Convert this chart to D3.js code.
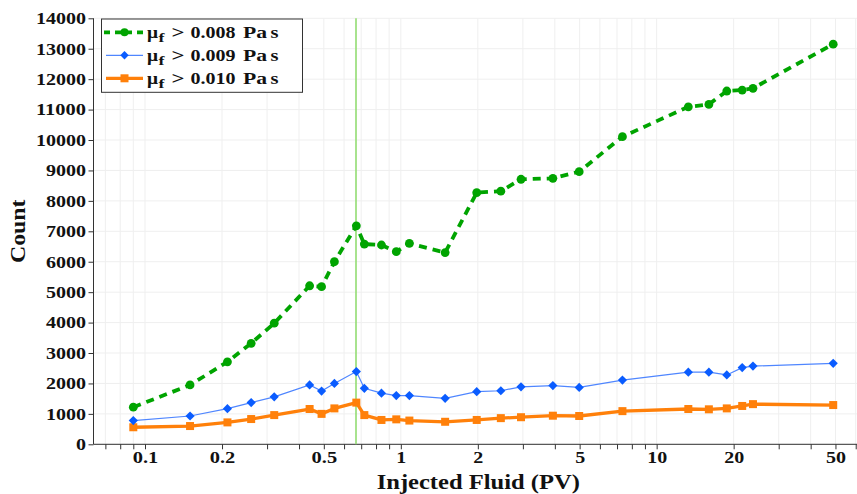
<!DOCTYPE html>
<html>
<head>
<meta charset="utf-8">
<script src="https://cdn.jsdelivr.net/npm/d3@7"></script>
<style>
  html, body { margin: 0; padding: 0; background: #fff; }
  svg { display: block; }
  text { font-family: "Liberation Serif", "Times New Roman", serif; font-weight: bold; fill: #111; }
</style>
</head>
<body>
<svg id="chart" width="857" height="494"></svg>
<script>
// ---- data ----
const injectedPV = [0.09, 0.15, 0.21, 0.26, 0.32, 0.44, 0.49, 0.55, 0.67, 0.72, 0.84, 0.96, 1.08, 1.49, 1.98, 2.46, 2.95, 3.93, 4.98, 7.35, 13.3, 16.0, 18.8, 21.6, 23.8, 49.0];
const count008 = [1220, 1950, 2710, 3320, 3980, 5210, 5180, 6000, 7180, 6580, 6550, 6330, 6600, 6300, 8270, 8320, 8710, 8740, 8960, 10110, 11090, 11170, 11610, 11640, 11700, 13150];
const count009 = [780, 930, 1170, 1370, 1560, 1950, 1750, 2000, 2390, 1840, 1680, 1600, 1600, 1510, 1730, 1760, 1890, 1930, 1870, 2110, 2370, 2370, 2280, 2520, 2570, 2660];
const count010 = [560, 600, 720, 830, 960, 1160, 1000, 1180, 1370, 960, 800, 820, 780, 740, 800, 860, 890, 940, 930, 1090, 1160, 1150, 1180, 1260, 1320, 1290];
const seriesLabels = ["0.008", "0.009", "0.010"];
const xTickLabels = [0.1, 0.2, 0.5, 1, 2, 5, 10, 20, 50];
const xMinorTicks = [0.07, 0.08, 0.09, 0.1, 0.2, 0.3, 0.4, 0.5, 0.6, 0.7, 0.8, 0.9, 1, 2, 3, 4, 5, 6, 7, 8, 9, 10, 20, 30, 40, 50, 60];
const yTicks = [0, 1000, 2000, 3000, 4000, 5000, 6000, 7000, 8000, 9000, 10000, 11000, 12000, 13000, 14000];
const markerPV = 0.668;

// approximate advance widths (em) of an extended bold serif, used to size text
const advance = {"0":.575,"1":.575,"2":.575,"3":.575,"4":.575,"5":.575,"6":.575,"7":.575,"8":.575,"9":.575,
  ".":.319," ":.383,"I":.436,"n":.639,"j":.351,"e":.527,"c":.511,"t":.447,"d":.639,"F":.703,"l":.319,
  "u":.639,"i":.319,"(":.447,"P":.786,"V":.869,")":.447,"C":.831,"o":.575,"a":.559,"s":.454};
const textW = (s, size) => Array.from(s).reduce((a, c) => a + (advance[c] || .6), 0) * size;

const svg = d3.select("#chart");
const pLeft = 93.5, pRight = 857, pTop = 18.3, pBottom = 444.3;

const x = d3.scaleLog().domain([0.0629, 60.7]).range([pLeft, pRight]);
const y = d3.scaleLinear().domain([0, 14000]).range([pBottom, pTop]);

// grid
const grid = svg.append("g");
grid.selectAll("line.v").data(xMinorTicks).join("line")
  .attr("x1", d => x(d)).attr("x2", d => x(d))
  .attr("y1", pTop).attr("y2", pBottom)
  .attr("stroke", "#efefef").attr("stroke-width", 1);
grid.selectAll("line.h").data(yTicks).join("line")
  .attr("x1", pLeft).attr("x2", pRight)
  .attr("y1", d => y(d)).attr("y2", d => y(d))
  .attr("stroke", "#efefef").attr("stroke-width", 1);

// axes
const tickSize = 16;
const xAxis = d3.axisBottom(x).tickValues(xMinorTicks).tickSize(5)
  .tickFormat(d => xTickLabels.includes(d) ? String(d) : "");
const gx = svg.append("g").attr("transform", `translate(0,${pBottom})`).call(xAxis);
gx.select(".domain").attr("stroke", "#333").attr("d", `M${pLeft},0H${pRight}`);
gx.selectAll(".tick line").attr("stroke", "#333");
gx.selectAll(".tick text").style("font-size", tickSize + "px").attr("fill", "#111")
  .attr("y", 19).attr("dy", null)
  .each(function () {
    const s = d3.select(this).text();
    if (s) d3.select(this).attr("textLength", textW(s, 17.4)).attr("lengthAdjust", "spacingAndGlyphs");
  });

const yAxis = d3.axisLeft(y).tickValues(yTicks).tickSize(5).tickFormat(d => String(d));
const gy = svg.append("g").attr("transform", `translate(${pLeft},0)`).call(yAxis);
gy.select(".domain").attr("stroke", "#333").attr("d", `M0,${pTop}V${pBottom}`);
gy.selectAll(".tick line").attr("stroke", "#333");
gy.selectAll(".tick text").style("font-size", tickSize + "px").attr("fill", "#111")
  .attr("x", -7.5).attr("dy", "0.33em")
  .each(function () {
    const s = d3.select(this).text();
    d3.select(this).attr("textLength", textW(s, 17.4)).attr("lengthAdjust", "spacingAndGlyphs");
  });

// axis titles
const xTitle = "Injected Fluid (PV)";
svg.append("text").attr("x", 478.3).attr("y", 489).attr("text-anchor", "middle")
  .style("font-size", "20px").attr("textLength", textW(xTitle, 20.3))
  .attr("lengthAdjust", "spacingAndGlyphs").text(xTitle);
const yTitle = "Count";
svg.append("text").attr("transform", `translate(24.5,${(pTop + pBottom) / 2}) rotate(-90)`)
  .attr("text-anchor", "middle").style("font-size", "20px")
  .attr("textLength", textW(yTitle, 20.3)).attr("lengthAdjust", "spacingAndGlyphs").text(yTitle);

// vertical marker line
svg.append("line").attr("x1", x(markerPV)).attr("x2", x(markerPV))
  .attr("y1", pTop).attr("y2", pBottom)
  .attr("stroke", "#93dc72").attr("stroke-width", 1.6);

const pts = vals => injectedPV.map((v, i) => [v, vals[i]]);
const line = d3.line().x(d => x(d[0])).y(d => y(d[1]));

// orange series
const cOr = "#ff800a";
svg.append("path").datum(pts(count010)).attr("d", line)
  .attr("fill", "none").attr("stroke", cOr).attr("stroke-width", 3.3).attr("stroke-linejoin", "round");
svg.append("g").selectAll("rect").data(pts(count010)).join("rect")
  .attr("x", d => x(d[0]) - 4).attr("y", d => y(d[1]) - 4)
  .attr("width", 8).attr("height", 8).attr("fill", cOr);

// blue series
const cBl = "#0a5cff";
svg.append("path").datum(pts(count009)).attr("d", line)
  .attr("fill", "none").attr("stroke", "#4f86ff").attr("stroke-width", 1.2);
const diamond = (cx, cy, r) => `M${cx},${cy - r}L${cx + r},${cy}L${cx},${cy + r}L${cx - r},${cy}Z`;
svg.append("g").selectAll("path").data(pts(count009)).join("path")
  .attr("d", d => diamond(x(d[0]), y(d[1]), 4.6)).attr("fill", cBl);

// green series
const cGr = "#00a400";
svg.append("path").datum(pts(count008)).attr("d", line)
  .attr("fill", "none").attr("stroke", cGr).attr("stroke-width", 3.8)
  .attr("stroke-dasharray", "8,6");
svg.append("g").selectAll("circle").data(pts(count008)).join("circle")
  .attr("cx", d => x(d[0])).attr("cy", d => y(d[1])).attr("r", 4.4).attr("fill", cGr);

// legend
const lg = svg.append("g");
lg.append("rect").attr("x", 101.5).attr("y", 19).attr("width", 201).attr("height", 73.3)
  .attr("fill", "#fff").attr("stroke", "#333").attr("stroke-width", 1);
const rows = [
  {lab: seriesLabels[0], color: cGr, w: 3.8, dash: "6,5", mk: "circle"},
  {lab: seriesLabels[1], color: "#4f86ff", mk_c: cBl, w: 1.2, dash: null, mk: "diamond"},
  {lab: seriesLabels[2], color: cOr, w: 3.3, dash: null, mk: "square"}
];
const piece = (g, str, px, py, size, w) => g.append("text").attr("x", px).attr("y", py)
  .style("font-size", size + "px").attr("textLength", w).attr("lengthAdjust", "spacingAndGlyphs").text(str);
rows.forEach((r, i) => {
  const cy = 32.3 + i * 23;
  const l = lg.append("line").attr("x1", 106).attr("x2", 143).attr("y1", cy).attr("y2", cy)
    .attr("stroke", r.color).attr("stroke-width", r.w);
  if (r.dash) l.attr("stroke-dasharray", r.dash).attr("x1", 104);
  if (r.mk === "circle") lg.append("circle").attr("cx", 124.5).attr("cy", cy).attr("r", 4).attr("fill", r.color);
  if (r.mk === "diamond") lg.append("path").attr("d", diamond(124.5, cy, 4.2)).attr("fill", r.mk_c);
  if (r.mk === "square") lg.append("rect").attr("x", 120.5).attr("y", cy - 4).attr("width", 8).attr("height", 8).attr("fill", r.color);
  const base = cy + 5.2;
  piece(lg, "μ", 147, base, 17, 11);
  piece(lg, "f", 158.5, base + 4, 12, 6);
  piece(lg, ">", 171.5, base, 17, 13);
  piece(lg, r.lab, 190.5, base, 16, 45);
  piece(lg, "Pa", 243, base, 16, 24);
  piece(lg, "s", 270.5, base, 16, 8);
});
</script>
</body>
</html>
